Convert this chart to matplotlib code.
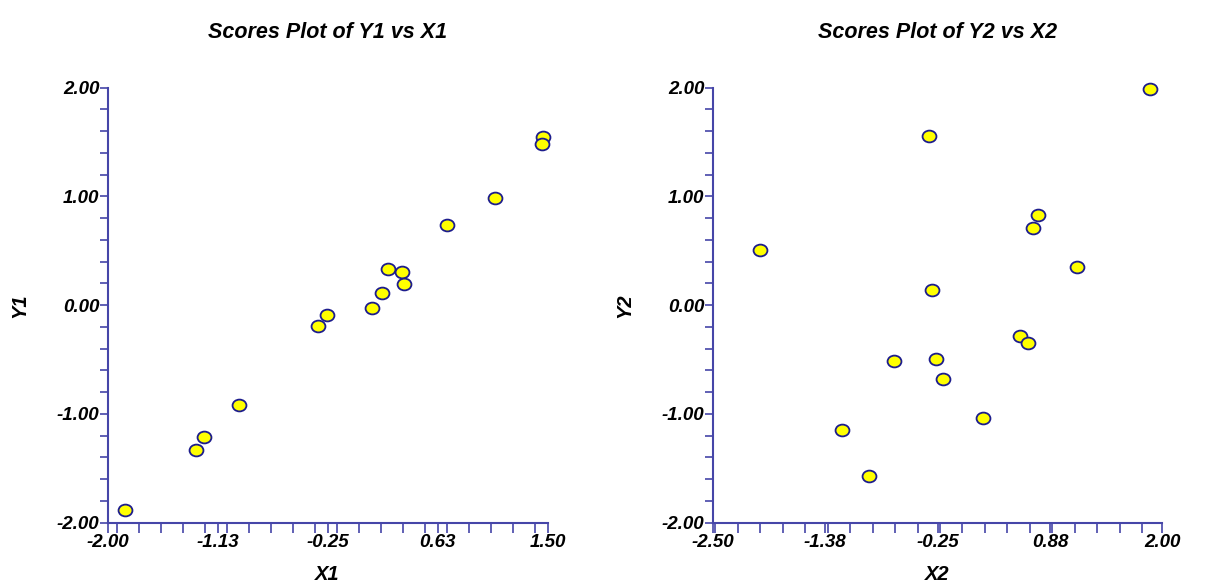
import numpy as np
import matplotlib
matplotlib.use('Agg')
import matplotlib.pyplot as plt
from matplotlib.path import Path
from matplotlib.ticker import MultipleLocator

x1 = [1.463, 1.455, 1.079, 0.697, 0.230, 0.344, 0.355, 0.185, 0.100, -0.255, -0.329,
      -0.955, -1.236, -1.300, -1.862]
y1 = [1.55, 1.48, 0.99, 0.74, 0.333, 0.305, 0.195, 0.115, -0.026, -0.093, -0.191,
      -0.921, -1.212, -1.331, -1.88]

x2 = [1.880, -0.338, 0.753, 0.709, -2.030, 1.150, -0.302, 0.576, 0.659, -0.682,
      -0.262, -0.198, 0.206, -1.203, -0.932]
y2 = [1.99, 1.56, 0.83, 0.71, 0.505, 0.35, 0.14, -0.283, -0.345, -0.513, -0.492,
      -0.679, -1.037, -1.148, -1.568]

x1_ticks = [-2.00, -1.125, -0.25, 0.625, 1.50]
x1_labels = ['-2.00', '-1.13', '-0.25', '0.63', '1.50']
x2_ticks = [-2.50, -1.375, -0.25, 0.875, 2.00]
x2_labels = ['-2.50', '-1.38', '-0.25', '0.88', '2.00']
y_ticks = [-2.0, -1.0, 0.0, 1.0, 2.0]
y_labels = ['-2.00', '-1.00', '0.00', '1.00', '2.00']

plt.rcParams['font.family'] = ['Liberation Sans', 'DejaVu Sans']

axis_col = '#4646a8'
circ = Path.unit_circle()
ellipse = Path(circ.vertices * np.array([1.0, 0.85]), circ.codes)

fig = plt.figure(figsize=(12.09, 5.86), dpi=100)
ax1 = fig.add_axes([0.0891, 0.108, 0.3639, 0.7423])
ax2 = fig.add_axes([0.5895, 0.108, 0.3719, 0.7423])

panels = [
    (ax1, x1, y1, x1_ticks, x1_labels, (-2.0, 1.5), 'X1', 'Y1', 'Scores Plot of Y1 vs X1'),
    (ax2, x2, y2, x2_ticks, x2_labels, (-2.5, 2.0), 'X2', 'Y2', 'Scores Plot of Y2 vs X2'),
]

for ax, xs, ys, xt, xl, xlim, xlab, ylab, title in panels:
    ax.scatter(xs, ys, s=100, marker=ellipse, facecolor='#ffff00',
               edgecolor='#1c1c8c', linewidth=1.3, zorder=3, clip_on=False)
    ax.set_xlim(*xlim)
    ax.set_ylim(-2, 2)
    for side in ['top', 'right']:
        ax.spines[side].set_visible(False)
    for side in ['left', 'bottom']:
        ax.spines[side].set_color(axis_col)
        ax.spines[side].set_linewidth(1.5)
    ax.set_xticks(xt)
    ax.set_xticklabels(xl)
    ax.xaxis.set_minor_locator(MultipleLocator((xlim[1] - xlim[0]) / 20))
    ax.set_yticks(y_ticks)
    ax.set_yticklabels(y_labels)
    ax.yaxis.set_minor_locator(MultipleLocator(0.2))
    ax.tick_params(which='both', direction='out', color=axis_col, width=1.2)
    ax.tick_params(axis='x', which='both', length=7, pad=1)
    ax.tick_params(axis='y', which='both', length=6, pad=0)
    for lab in ax.get_xticklabels() + ax.get_yticklabels():
        lab.set_fontsize(13.5)
        lab.set_fontweight('bold')
        lab.set_fontstyle('italic')
    ax.set_xlabel(xlab, fontsize=14.5, fontweight='bold', fontstyle='italic', labelpad=10)
    ax.set_ylabel(ylab, fontsize=14.5, fontweight='bold', fontstyle='italic', labelpad=20)
    ax.set_title(title, fontsize=15.5, fontweight='bold', fontstyle='italic', pad=36)

fig.savefig('out.png', dpi=100)
